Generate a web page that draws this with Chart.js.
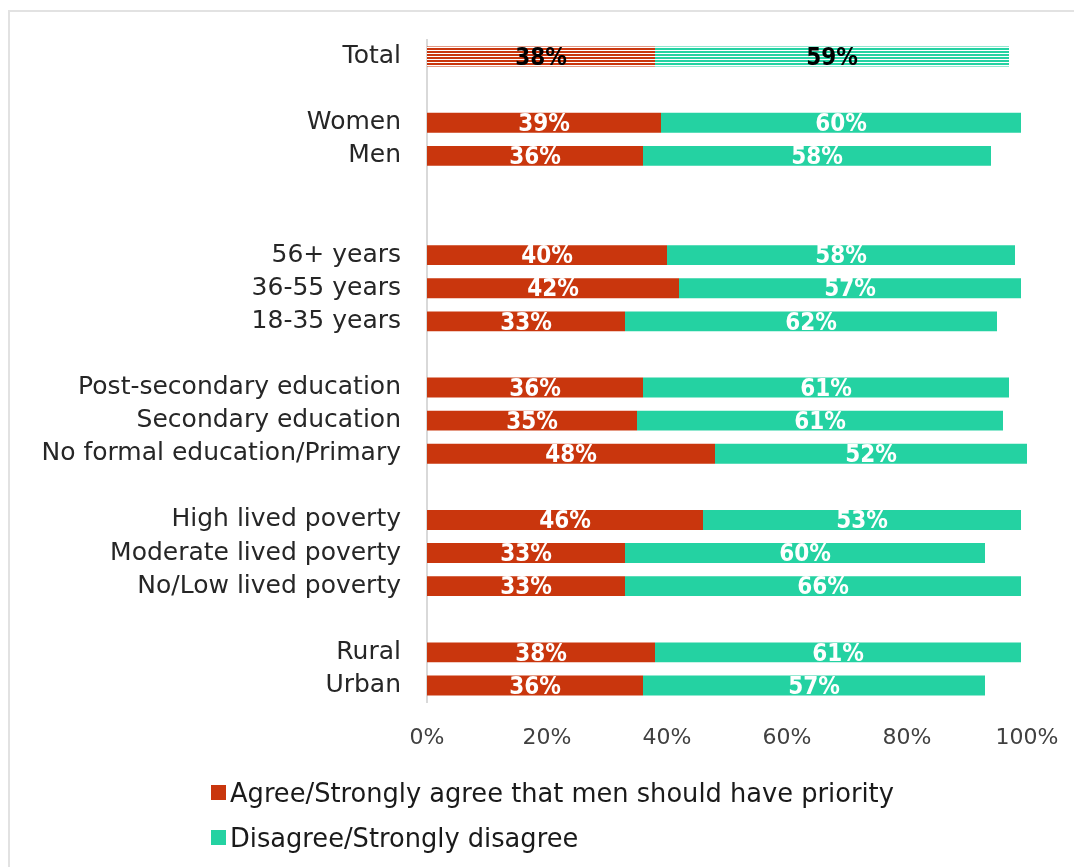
<!DOCTYPE html>
<html>
<head>
<meta charset="utf-8">
<script src="https://cdn.jsdelivr.net/npm/chart.js@4.4.1/dist/chart.umd.min.js"></script>
<style>
  html, body { margin: 0; background: #fff; overflow: hidden; }
  #wrap { position: relative; width: 1074px; height: 867px; overflow: hidden; }
  #chart { display: block; }
  #frame { position: absolute; left: 8px; top: 10px; width: 1200px; height: 1000px;
           border-top: 2px solid #e2e2e2; border-left: 2px solid #e2e2e2; }
  #legend { position: absolute; left: 211px; top: 770px;
            font-family: "DejaVu Sans", sans-serif; font-size: 25.7px; color: #1a1a1a; white-space: nowrap; }
  #legend div { display: flex; align-items: center; height: 45px; }
  #legend span.box { width: 15px; height: 15px; margin-right: 4px; display: inline-block; }
</style>
</head>
<body>
<div id="wrap">
  <div id="frame"></div>
  <canvas id="chart" width="1074" height="867"></canvas>
  <div id="legend"></div>
</div>
<script>
// rows from top to bottom, blank strings are spacer rows
const categories = [
  'Total', '',
  'Women', 'Men', '', '',
  '56+ years', '36-55 years', '18-35 years', '',
  'Post-secondary education', 'Secondary education', 'No formal education/Primary', '',
  'High lived poverty', 'Moderate lived poverty', 'No/Low lived poverty', '',
  'Rural', 'Urban'
];
const agreeValues = [
  38, null,
  39, 36, null, null,
  40, 42, 33, null,
  36, 35, 48, null,
  46, 33, 33, null,
  38, 36
];
const disagreeValues = [
  59, null,
  60, 58, null, null,
  58, 57, 62, null,
  61, 61, 52, null,
  53, 60, 66, null,
  61, 57
];
const seriesNames = ['Agree/Strongly agree that men should have priority', 'Disagree/Strongly disagree'];
const xTicks = [0, 20, 40, 60, 80, 100];

const RED = '#C9360D';
const GREEN = '#24D2A2';
const FONT = '"DejaVu Sans", sans-serif';

// horizontal stripes used for the Total row
function stripes(color) {
  const c = document.createElement('canvas');
  c.width = 4; c.height = 3;
  const g = c.getContext('2d');
  g.fillStyle = '#fff';
  g.fillRect(0, 0, 4, 3);
  g.fillStyle = color;
  g.fillRect(0, 0, 4, 2);
  return g.createPattern(c, 'repeat');
}

function fillFor(color) {
  const pat = stripes(color);
  return ctx => (ctx.dataIndex === 0 ? pat : color);
}

// value labels centred on each segment
const segmentLabels = {
  id: 'segmentLabels',
  afterDatasetsDraw(chart) {
    const g = chart.ctx;
    g.save();
    g.font = 'bold 24px "DejaVu Sans Condensed", "Liberation Sans Narrow", sans-serif';
    g.textAlign = 'center';
    g.textBaseline = 'middle';
    chart.data.datasets.forEach((ds, i) => {
      chart.getDatasetMeta(i).data.forEach((bar, j) => {
        const v = ds.data[j];
        if (v == null) return;
        const { x, y, base } = bar.getProps(['x', 'y', 'base'], true);
        g.fillStyle = j === 0 ? '#000' : '#fff';
        g.fillText(v + '%', (x + base) / 2, y + 2);
      });
    });
    g.restore();
  }
};

new Chart(document.getElementById('chart'), {
  type: 'bar',
  data: {
    labels: categories,
    datasets: [
      { label: seriesNames[0], data: agreeValues, backgroundColor: fillFor(RED) },
      { label: seriesNames[1], data: disagreeValues, backgroundColor: fillFor(GREEN) }
    ]
  },
  options: {
    indexAxis: 'y',
    responsive: false,
    animation: false,
    layout: { padding: { left: 0, right: 47, top: 40, bottom: 105 } },
    datasets: { bar: { categoryPercentage: 1, barPercentage: 0.6 } },
    scales: {
      x: {
        stacked: true,
        min: 0, max: 100,
        afterBuildTicks: s => { s.ticks = xTicks.map(v => ({ value: v })); },
        // keep the plot edges fixed regardless of tick label width
        afterFit: s => { s.height = 60; s.paddingLeft = 0; s.paddingRight = 0; },
        grid: { display: false },
        border: { display: false },
        ticks: {
          padding: 15,
          color: '#404040',
          font: { family: FONT, size: 22 },
          callback: v => v + '%'
        }
      },
      y: {
        stacked: true,
        afterFit: s => { s.width = 427; s.paddingTop = 0; s.paddingBottom = 0; },
        grid: { display: false },
        border: { display: true, color: '#d9d9d9', width: 2 },
        ticks: {
          padding: 18,
          autoSkip: false,
          color: '#262626',
          font: { family: FONT, size: 25 }
        }
      }
    },
    plugins: {
      legend: { display: false },
      tooltip: { enabled: false }
    }
  },
  plugins: [segmentLabels]
});

// legend, one series per line
const legendEl = document.getElementById('legend');
[RED, GREEN].forEach((c, i) => {
  const row = document.createElement('div');
  row.innerHTML = '<span class="box" style="background:' + c + '"></span>' + seriesNames[i];
  legendEl.appendChild(row);
});
</script>
</body>
</html>
